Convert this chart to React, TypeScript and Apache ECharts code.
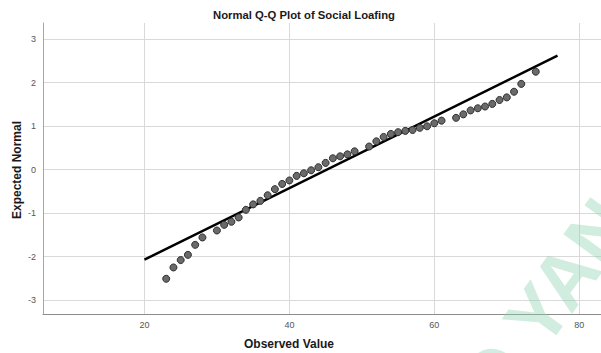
import React, { useEffect, useRef } from "react";
import * as echarts from "echarts";

const observed = [23, 24, 25, 26, 27, 28, 30, 31, 32, 33, 34, 35, 36, 37, 38, 39, 40, 41, 42, 43, 44, 45, 46, 47, 48, 49, 51, 52, 53, 54, 55, 56, 57, 58, 59, 60, 61, 63, 64, 65, 66, 67, 68, 69, 70, 71, 72, 74];
const expected = [-2.51, -2.25, -2.08, -1.96, -1.73, -1.56, -1.4, -1.27, -1.2, -1.1, -0.925, -0.8, -0.72, -0.59, -0.45, -0.33, -0.25, -0.145, -0.085, -0.016, 0.055, 0.154, 0.26, 0.305, 0.35, 0.42, 0.53, 0.65, 0.75, 0.82, 0.86, 0.89, 0.91, 0.96, 0.995, 1.065, 1.125, 1.19, 1.27, 1.36, 1.41, 1.45, 1.51, 1.6, 1.66, 1.79, 1.97, 2.25];
const refLineX = [20, 77];
const refLineY = [-2.07, 2.62];
const xTicks = [20, 40, 60, 80];
const yTicks = [-3, -2, -1, 0, 1, 2, 3];

const FONT = "'Liberation Sans', Arial, sans-serif";

export default function App() {
  const ref = useRef<HTMLDivElement>(null);
  useEffect(() => {
    document.body.style.margin = "0";
    const chart = echarts.init(ref.current!, null, { renderer: "svg" });
    chart.setOption({
      animation: false,
      backgroundColor: "#ffffff",
      grid: { left: 43, top: 23, width: 558, height: 291, containLabel: false },
      xAxis: {
        type: "value",
        min: 6,
        max: 83,
        axisLine: { show: true, onZero: false, lineStyle: { color: "#8c8c8c", width: 1 } },
        axisTick: { show: false, customValues: xTicks },
        axisLabel: { customValues: xTicks, color: "#555555", fontSize: 9, fontFamily: FONT, margin: 6 },
        splitLine: { show: true, lineStyle: { color: "#d9d9d9", width: 1 } },
      },
      yAxis: {
        type: "value",
        min: -3.32,
        max: 3.37,
        axisLine: { show: true, onZero: false, lineStyle: { color: "#a6a6a6", width: 1 } },
        axisTick: { show: false, customValues: yTicks },
        axisLabel: { customValues: yTicks, color: "#555555", fontSize: 9, fontFamily: FONT, margin: 7 },
        splitLine: { show: true, lineStyle: { color: "#d9d9d9", width: 1 } },
      },
      graphic: [
        {
          type: "text",
          x: 304,
          y: 15,
          style: { text: "Normal Q-Q Plot of Social Loafing", font: `bold 11.3px ${FONT}`, fill: "#1a1a1a", align: "center", verticalAlign: "middle" },
        },
        {
          type: "text",
          x: 289,
          y: 344,
          style: { text: "Observed Value", font: `bold 12px ${FONT}`, fill: "#1a1a1a", align: "center", verticalAlign: "middle" },
        },
        {
          type: "text",
          x: 17,
          y: 170,
          rotation: Math.PI / 2,
          style: { text: "Expected Normal", font: `bold 12px ${FONT}`, fill: "#1a1a1a", align: "center", verticalAlign: "middle" },
        },
        {
          type: "text",
          x: 545,
          y: 305,
          rotation: Math.PI * 0.3,
          z: 100,
          style: { text: "O YAN", font: `bold 78px ${FONT}`, fill: "rgba(140, 210, 175, 0.4)", align: "center", verticalAlign: "middle" },
        },
      ],
      series: [
        {
          type: "line",
          data: refLineX.map((x, i) => [x, refLineY[i]]),
          showSymbol: false,
          lineStyle: { color: "#000000", width: 2.5 },
          z: 3,
          silent: true,
        },
        {
          type: "scatter",
          data: observed.map((x, i) => [x, expected[i]]),
          symbol: "circle",
          symbolSize: 7,
          itemStyle: { color: "#6a6a6a", borderColor: "#2e2e2e", borderWidth: 1, opacity: 1 },
          z: 4,
        },
      ],
    });
    return () => chart.dispose();
  }, []);
  return <div ref={ref} style={{ width: 601, height: 353 }} />;
}
